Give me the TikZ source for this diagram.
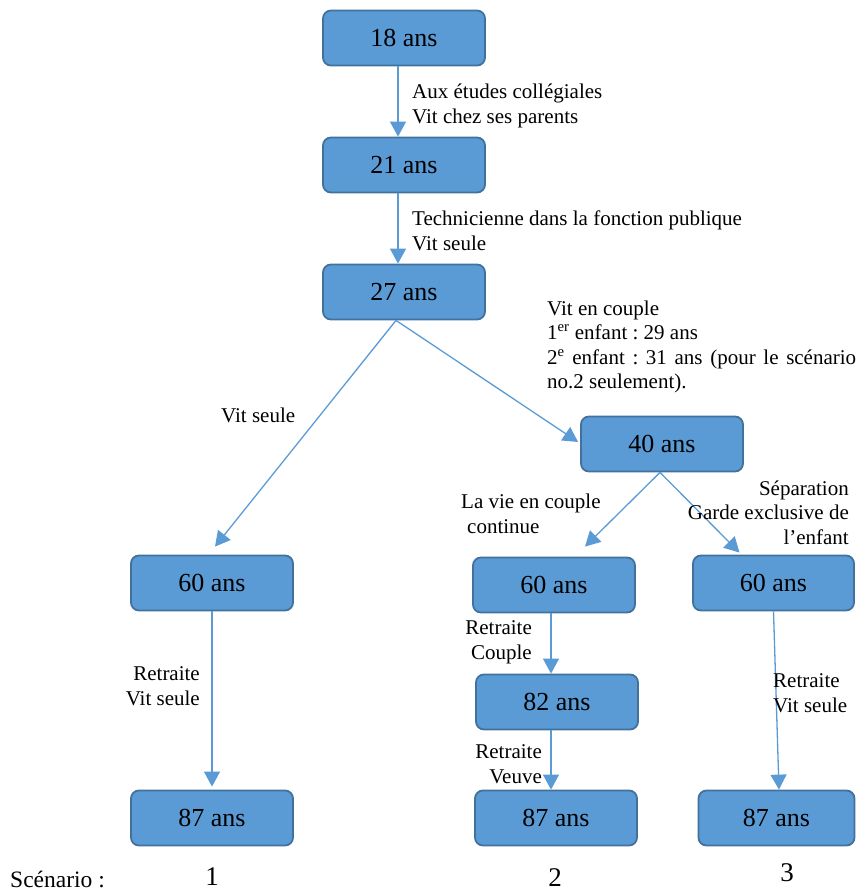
\documentclass[tikz,border=0pt]{standalone}
\usepackage{fontspec}
\setmainfont{Liberation Serif}
\usetikzlibrary{arrows.meta}
\definecolor{boxfill}{HTML}{5B9BD5}
\definecolor{boxline}{HTML}{41719C}
\definecolor{arrowblue}{HTML}{5B9BD5}
\frenchspacing
\tikzset{
  agebox/.style={draw=boxline, fill=boxfill, line width=1.8pt, rounded corners=8pt,
    minimum width=162pt, minimum height=55pt, inner sep=0pt,
    font=\fontsize{26}{30}\selectfont},
  arr/.style={draw=arrowblue, line width=1.3pt, -{Triangle[width=16pt,length=15pt]}},
  lab/.style={inner sep=0pt, font=\fontsize{21}{24.5}\selectfont},
  num/.style={inner sep=0pt, font=\fontsize{27}{30}\selectfont}
}
\begin{document}
\begin{tikzpicture}[x=1pt,y=-1pt]
\useasboundingbox (0,0) rectangle (856,891);
% boxes
\node[agebox] (b18) at (404,38) {18 ans};
\node[agebox] (b21) at (404,165) {21 ans};
\node[agebox] (b27) at (404,292) {27 ans};
\node[agebox] (b40) at (662,444) {40 ans};
\node[agebox] (b60a) at (212,583) {60 ans};
\node[agebox] (b60b) at (554,585) {60 ans};
\node[agebox, minimum width=161pt] (b60c) at (773.5,583) {60 ans};
\node[agebox] (b82) at (557,702) {82 ans};
\node[agebox] (b87a) at (212,818) {87 ans};
\node[agebox] (b87b) at (556,818) {87 ans};
\node[agebox, minimum width=156pt] (b87c) at (776.5,818) {87 ans};
% arrows
\draw[arr] ([xshift=-6pt]b18.south) -- ([xshift=-6pt]b21.north);
\draw[arr] ([xshift=-6pt]b21.south) -- ([xshift=-6pt]b27.north);
\draw[arr] ([xshift=-8pt]b27.south) -- ([xshift=3pt,yshift=8pt]b60a.north);
\draw[arr] ([xshift=-8pt]b27.south) -- ([xshift=-2pt,yshift=2pt]b40.west);
\draw[arr] ([xshift=-2pt]b40.south) -- ([xshift=31pt,yshift=10pt]b60b.north);
\draw[arr] ([xshift=-2pt]b40.south) -- ([xshift=-34pt,yshift=2pt]b60c.north);
\draw[arr] (b60a.south) -- ([yshift=3pt]b87a.north);
\draw[arr] ([xshift=-3pt]b60b.south) -- ([xshift=-6pt]b82.north);
\draw[arr] ([xshift=-6pt]b82.south) -- ([xshift=-5pt]b87b.north);
\draw[arr] (b60c.south) -- ([xshift=2.5pt]b87c.north);
% labels (base anchor = baseline of last line for multi-line nodes)
\node[lab, anchor=base west, align=left] (t1) at (412,123) {Aux études collégiales\\Vit chez ses parents};
\node[lab, anchor=base west, align=left] (t2) at (412,250) {Technicienne dans la fonction publique\\Vit seule};
\node[lab, anchor=base west, text width=309pt, align=justify] (t3) at (547,315) {Vit en couple\\1\textsuperscript{er} enfant : 29 ans\\2\textsuperscript{e} enfant : 31 ans (pour le scénario\linebreak no.2 seulement).};
\node[lab, anchor=base west] (t4) at (221,422) {Vit seule};
\node[lab, anchor=base west, align=left] (t5) at (461,533) {La vie en couple\\\hspace*{6pt}continue};
\node[lab, anchor=base east, align=right] (t6) at (849,544) {Séparation\\Garde exclusive de\\l’enfant};
\node[lab, anchor=base east, align=right] (t7) at (532,659) {Retraite\\Couple};
\node[lab, anchor=base east, align=right] (t8) at (542,783) {Retraite\\Veuve};
\node[lab, anchor=base east, align=right] (t9) at (200,705) {Retraite\\Vit seule};
\node[lab, anchor=base west, align=left] (t10) at (773,712) {Retraite\\Vit seule};
% scenario line
\node[lab, anchor=base west, font=\fontsize{23.5}{26}\selectfont] (sc) at (10,887) {Scénario :};
\node[num, anchor=base] (n1) at (212,885) {1};
\node[num, anchor=base] (n2) at (555,886) {2};
\node[num, anchor=base] (n3) at (787,881) {3};
\end{tikzpicture}
\end{document}
